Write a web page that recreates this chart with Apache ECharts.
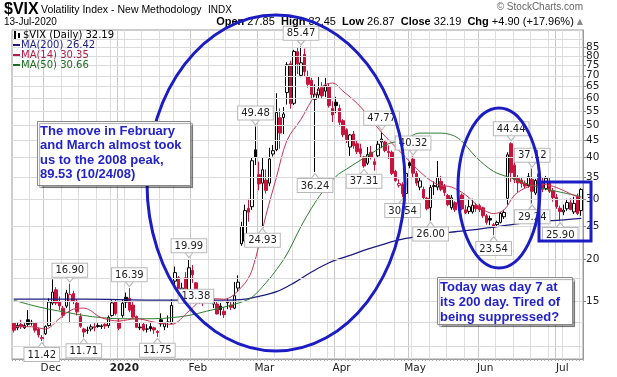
<!DOCTYPE html>
<html>
<head>
<meta charset="utf-8">
<script src="https://cdn.jsdelivr.net/npm/echarts@6/dist/echarts.min.js"></script>
<style>
html,body{margin:0;padding:0;background:#fff;}
#chart{width:617px;height:377px;}
</style>
</head>
<body>
<div id="chart"></div>
<script>
// trading days shown on the chart
const days = [
  '2019-11-18','2019-11-19','2019-11-20','2019-11-21','2019-11-22','2019-11-25','2019-11-26','2019-11-27','2019-11-29',
  '2019-12-02','2019-12-03','2019-12-04','2019-12-05','2019-12-06','2019-12-09','2019-12-10','2019-12-11','2019-12-12','2019-12-13',
  '2019-12-16','2019-12-17','2019-12-18','2019-12-19','2019-12-20','2019-12-23','2019-12-24','2019-12-26','2019-12-27','2019-12-30','2019-12-31',
  '2020-01-02','2020-01-03','2020-01-06','2020-01-07','2020-01-08','2020-01-09','2020-01-10','2020-01-13','2020-01-14','2020-01-15',
  '2020-01-16','2020-01-17','2020-01-21','2020-01-22','2020-01-23','2020-01-24','2020-01-27','2020-01-28','2020-01-29','2020-01-30','2020-01-31',
  '2020-02-03','2020-02-04','2020-02-05','2020-02-06','2020-02-07','2020-02-10','2020-02-11','2020-02-12','2020-02-13','2020-02-14',
  '2020-02-18','2020-02-19','2020-02-20','2020-02-21','2020-02-24','2020-02-25','2020-02-26','2020-02-27','2020-02-28',
  '2020-03-02','2020-03-03','2020-03-04','2020-03-05','2020-03-06','2020-03-09','2020-03-10','2020-03-11','2020-03-12','2020-03-13',
  '2020-03-16','2020-03-17','2020-03-18','2020-03-19','2020-03-20','2020-03-23','2020-03-24','2020-03-25','2020-03-26','2020-03-27','2020-03-30','2020-03-31',
  '2020-04-01','2020-04-02','2020-04-03','2020-04-06','2020-04-07','2020-04-08','2020-04-09','2020-04-13','2020-04-14','2020-04-15',
  '2020-04-16','2020-04-17','2020-04-20','2020-04-21','2020-04-22','2020-04-23','2020-04-24','2020-04-27','2020-04-28','2020-04-29','2020-04-30',
  '2020-05-01','2020-05-04','2020-05-05','2020-05-06','2020-05-07','2020-05-08','2020-05-11','2020-05-12','2020-05-13','2020-05-14',
  '2020-05-15','2020-05-18','2020-05-19','2020-05-20','2020-05-21','2020-05-22','2020-05-26','2020-05-27','2020-05-28','2020-05-29',
  '2020-06-01','2020-06-02','2020-06-03','2020-06-04','2020-06-05','2020-06-08','2020-06-09','2020-06-10','2020-06-11','2020-06-12',
  '2020-06-15','2020-06-16','2020-06-17','2020-06-18','2020-06-19','2020-06-22','2020-06-23','2020-06-24','2020-06-25','2020-06-26','2020-06-29','2020-06-30',
  '2020-07-01','2020-07-02','2020-07-06','2020-07-07','2020-07-08','2020-07-09','2020-07-10','2020-07-13'
];

// [open, close, low, high]
const ohlc = [
  [12.9,12.3,12.1,13.0],[12.5,12.7,12.3,13.0],[12.8,12.6,12.4,13.2],[12.5,12.7,12.4,12.9],[13.2,12.8,12.6,14.1],
  [12.9,13.0,12.7,13.2],[12.9,12.3,12.1,13.0],[12.4,11.9,11.7,12.5],[11.6,11.7,11.42,11.9],
  [12.0,12.62,11.9,12.7],[12.7,14.91,12.6,15.3],[14.8,15.96,14.6,17.4],[16.2,14.80,14.6,16.5],[14.9,14.52,14.1,15.5],
  [14.3,13.62,13.4,14.5],[14.5,15.86,14.3,16.2],[15.0,15.68,12.9,16.90],[15.8,14.99,14.7,16.1],[14.8,13.94,13.6,15.2],
  [13.5,12.63,12.5,13.8],[12.4,12.14,11.71,12.5],[12.3,12.29,12.0,12.6],[12.4,12.58,12.2,12.8],[12.6,12.50,12.2,12.9],
  [12.7,12.61,12.5,12.9],[12.6,12.67,12.4,12.8],[12.8,12.65,12.4,12.9],[12.7,13.43,12.5,13.6],[13.6,14.82,13.5,15.1],[14.9,13.78,13.6,15.2],
  [13.0,12.47,12.3,13.3],[13.6,14.8,13.4,15.2],[15.4,14.9,14.3,15.9],[15.3,14.1,13.9,16.39],[14.6,13.45,13.3,15.0],
  [13.5,12.54,12.5,13.6],[12.5,12.56,12.3,12.9],[12.8,12.32,12.2,13.0],[12.4,12.39,12.1,12.8],[12.6,12.42,12.2,12.9],
  [12.5,12.32,12.0,12.6],[12.2,12.10,11.75,12.3],[13.2,12.85,12.6,13.8],[12.6,12.91,12.3,13.0],[13.0,12.98,12.5,13.6],
  [12.9,14.56,12.8,15.2],[17.2,18.23,16.8,19.0],[17.6,16.28,16.0,17.8],[15.9,16.39,15.6,17.0],[17.6,15.49,15.3,18.3],[15.6,18.84,15.5,19.99],
  [18.5,17.97,17.0,19.2],[17.0,16.05,15.9,17.1],[15.7,15.15,14.7,16.3],[15.1,14.96,14.5,15.4],[15.2,15.47,14.9,15.9],
  [15.9,15.04,14.8,16.0],[14.7,15.18,14.3,15.6],[14.7,13.74,13.7,15.0],[14.5,14.15,13.6,14.8],[14.0,13.68,13.38,14.4],
  [14.9,14.83,14.2,15.3],[14.6,14.38,14.1,14.9],[14.3,15.56,14.2,17.1],[16.4,17.08,16.0,17.9],
  [22.2,25.03,21.9,25.8],[22.6,27.85,22.3,29.0],[28.3,27.56,25.8,30.2],[28.6,39.16,28.0,39.9],[42.2,40.11,38.0,49.48],
  [35.6,33.42,32.0,38.9],[33.6,36.82,24.93,39.9],[34.3,31.99,31.3,36.9],[33.6,39.62,32.9,42.8],[41.0,41.94,40.3,43.6],
  [42.2,54.46,41.8,62.12],[52.5,47.30,42.5,56.0],[52.6,53.90,47.0,56.5],[62.4,75.47,57.5,76.8],[76.0,57.83,55.9,77.6],
  [58.0,82.69,57.3,83.56],[82.5,75.91,70.8,84.8],[70.2,76.45,69.3,85.47],[81.0,72.00,69.4,84.3],[69.4,66.04,64.5,72.5],
  [67.9,61.59,60.0,69.0],[59.6,61.67,36.24,66.0],[61.4,63.95,60.2,69.8],[64.5,61.00,59.8,67.0],[63.0,65.54,60.5,69.0],
  [65.0,57.08,56.3,66.4],[56.0,53.54,51.0,58.8],
  [58.4,57.06,54.2,60.6],[56.0,50.91,49.5,57.5],[51.5,46.80,46.0,52.0],[48.4,45.24,44.2,48.9],[43.0,46.70,40.5,47.0],
  [47.0,43.35,42.5,48.0],[44.0,41.67,41.0,45.0],[42.5,41.17,40.0,44.0],[40.2,37.76,37.31,40.5],[38.5,40.84,38.0,43.0],
  [41.5,40.11,39.5,43.3],[38.9,38.15,36.6,39.8],[40.5,43.83,40.0,45.0],[44.5,45.41,42.7,47.77],[44.5,41.98,41.5,45.0],
  [41.7,41.38,39.6,43.5],[41.5,35.93,35.5,42.0],[36.4,34.2,33.9,36.8],[33.1,33.5,32.6,34.5],[33.3,31.23,30.54,33.8],[31.3,35.9,31.0,36.6],
  [38.6,37.9,37.2,39.0],[39.6,35.97,35.0,40.32],[35.9,33.61,33.0,36.5],[32.7,34.12,32.0,35.0],[32.2,30.4,30.0,32.8],
  [30.3,28.2,27.9,30.6],[28.4,32.6,26.00,33.2],[32.8,33.04,31.0,34.0],[32.7,35.0,32.0,39.1],[34.0,32.2,31.8,35.3],
  [32.9,31.5,30.8,33.4],[30.9,29.0,28.7,31.2],[28.4,30.4,28.0,31.0],[29.4,28.0,27.6,29.7],[29.9,29.53,27.9,31.5],
  [31.0,28.16,27.9,31.3],[28.0,27.4,27.2,28.9],[27.7,28.59,27.2,30.2],[27.6,28.9,27.3,30.2],[28.9,28.2,27.6,29.4],
  [28.8,28.0,27.6,29.2],[28.4,26.9,26.5,28.6],[26.9,25.7,25.3,27.2],[26.4,26.1,25.2,26.9],[25.3,24.8,23.54,25.6],
  [25.3,25.7,24.9,26.0],[25.7,27.3,25.5,27.6],[26.7,27.5,26.3,28.0],[30.3,40.79,29.0,41.5],[44.0,36.09,33.9,44.44],
  [38.0,34.40,33.6,39.0],[34.7,33.67,31.6,35.5],[34.3,33.47,32.6,35.0],[33.6,32.94,32.4,34.2],[33.0,35.12,32.6,36.0],
  [34.5,31.77,29.24,37.12],[31.4,34.2,31.0,34.6],[35.8,33.1,32.8,36.0],[33.6,32.22,31.6,34.8],[32.4,34.73,32.0,35.3],
  [34.0,31.78,31.4,34.8],[31.9,30.43,29.6,32.5],
  [30.5,28.62,28.2,31.2],[28.3,27.68,25.90,28.8],[27.6,27.94,27.0,29.0],[28.2,29.43,27.8,30.2],[29.4,28.08,27.9,30.3],
  [27.6,29.26,27.2,30.6],[30.6,27.29,27.0,31.3],[27.85,32.19,26.87,32.45]
];

// days whose high / low carry a value box
const hiIdx = [16, 33, 50, 69, 82, 105, 114, 142, 148];
const loIdx = [8, 20, 41, 60, 71, 86, 100, 111, 119, 137, 148, 156];

// moving averages: [day index, value]
const ma200Pts = [[0,15.2],[20,15.2],[40,15.1],[60,15.1],[66,15.2],[70,15.5],[75,16.0],[80,17.0],[85,18.3],[90,19.5],
  [96,20.5],[101,21.4],[106,22.2],[111,22.9],[116,23.4],[121,23.8],[126,24.1],[131,24.4],[136,24.8],[141,25.2],
  [146,25.6],[151,25.9],[156,26.1],[162,26.42]];
const ma50Pts = [[0,15.1],[5,14.6],[10,14.2],[15,13.9],[20,13.6],[25,13.4],[30,13.3],[35,13.3],[40,13.3],[45,13.4],
  [50,13.6],[55,14.0],[60,14.4],[65,14.9],[68,15.4],[72,17.0],[75,18.6],[78,20.7],[82,25.0],[85,28.3],[88,31.5],
  [92,35.2],[95,37.0],[101,40.5],[107,44.0],[111,45.0],[116,47.3],[122,47.3],[127,45.6],[132,40.1],[137,36.4],
  [142,34.8],[149,32.8],[156,31.6],[162,30.66]];
const ma14Pts = [[0,12.6],[5,12.6],[9,12.4],[13,13.3],[17,14.2],[20,14.3],[25,13.4],[30,13.1],[35,13.3],[40,13.0],
  [45,12.8],[50,14.0],[55,15.3],[60,15.2],[65,16.5],[68,18.5],[72,27],[75,35],[78,45],[82,52],[85,59],[88,65],
  [91,66.6],[94,63],[98,58],[101,53.5],[105,47.5],[109,43],[113,39],[117,35.5],[121,33.3],[125,32.7],[129,31],
  [133,28.5],[137,27.3],[140,28.0],[143,31.0],[147,32.8],[151,33.3],[155,32.6],[159,31.2],[162,30.35]];

const tickVals = [15,20,25,30,35,40,45,50,55,60,65,70,75,80,85,90];
const gridVals = [11,13,15,17.5,20,25,30,35,40,45,50,55,60,65,70,75,80,85,90];
const monthNames = ['', '2020', 'Feb', 'Mar', 'Apr', 'May', 'Jun', 'Jul', 'Aug', 'Sep', 'Oct', 'Nov', 'Dec'];

const RED = '#c8143c';
const NAVY = '#1c1c80';
const GREEN = '#2f7d2f';
const MA14C = '#c8345a';
const ANNO = '#1c1cc4';

const candles = ohlc.map(function(d, i) {
  let prev = i ? ohlc[i - 1][1] : d[0];
  let col = d[1] < prev ? RED : '#000';
  let fill = d[1] < d[0] ? col : '#fff';
  return { value: d, itemStyle: { color: fill, color0: fill, borderColor: col, borderColor0: col } };
});

const monthStart = new Set();
const weekStart = new Set();
days.forEach(function(d, i) {
  if (i === 0) return;
  if (d.slice(5, 7) !== days[i - 1].slice(5, 7)) monthStart.add(i);
  let a = new Date(d + 'T00:00:00Z').getUTCDay();
  let b = new Date(days[i - 1] + 'T00:00:00Z').getUTCDay();
  if (a <= b) weekStart.add(i);
});

const callouts = hiIdx.map(function(i) {
  return { coord: [i, ohlc[i][3]], value: ohlc[i][3].toFixed(2), symbol: 'triangle', symbolRotate: 180,
    symbolSize: [8, 5], symbolOffset: [0, -4], label: { position: 'top', distance: 0 } };
}).concat(loIdx.map(function(i) {
  let item = { coord: [i, ohlc[i][2]], value: ohlc[i][2].toFixed(2), symbol: 'triangle',
    symbolSize: [8, 5], symbolOffset: [0, 4], label: { position: 'bottom', distance: 0 } };
  // the mid-February box sits up and to the left, clear of the candles
  if (i === 60) { item.symbolSize = 0; item.label.offset = [-28, -32]; }
  return item;
}));

function maSeries(name, pts, color, width) {
  return {
    name: name, type: 'line', data: pts, showSymbol: false, smooth: 0.35, z: 4,
    lineStyle: { color: color, width: width }, silent: true
  };
}

const chart = echarts.init(document.getElementById('chart'), null, { renderer: 'canvas' });

const option = {
  animation: false,
  backgroundColor: '#fff',
  grid: { left: 12, right: 34, top: 30, bottom: 18, show: true, borderColor: '#9a9a9a', borderWidth: 1 },
  xAxis: [{
    type: 'category', data: days, boundaryGap: true,
    axisLine: { lineStyle: { color: '#999' } },
    axisTick: { show: true, interval: 0, length: 2, lineStyle: { color: '#aaa' } },
    axisLabel: {
      interval: function(i) { return monthStart.has(i); },
      formatter: function(v) { let m = +v.slice(5, 7); return m === 1 ? '{b|2020}' : monthNames[m]; },
      fontFamily: 'DejaVu Sans', fontSize: 10.5, color: '#222', margin: 4, padding: [0, 0, 0, 11],
      rich: { b: { fontWeight: 'bold', fontFamily: 'DejaVu Sans', fontSize: 10.5, color: '#222' } }
    },
    splitLine: { show: true, interval: function(i) { return weekStart.has(i); }, lineStyle: { color: '#dedede' } }
  }, {
    type: 'category', data: days, boundaryGap: true, position: 'top',
    axisLine: { show: false }, axisTick: { show: false }, axisLabel: { show: false },
    splitLine: { show: true, interval: function(i) { return monthStart.has(i); }, lineStyle: { color: '#c8c8c8' } }
  }],
  yAxis: {
    type: 'log', logBase: 10, position: 'right', min: 10.1, max: 95.7,
    axisLine: { show: true, lineStyle: { color: '#999' } },
    axisTick: { show: true, length: 3, customValues: tickVals, lineStyle: { color: '#888' } },
    axisLabel: {
      customValues: tickVals, margin: 3, color: '#222', fontSize: 10.5, fontFamily: 'DejaVu Sans',
      formatter: function(v) { return String(Math.round(v)); }
    },
    splitLine: { show: false }
  },
  series: [
    {
      type: 'line', data: [], z: 1, silent: true,
      markLine: {
        silent: true, symbol: 'none', label: { show: false },
        lineStyle: { color: '#dadada', width: 1, type: 'solid' },
        data: gridVals.map(function(v) { return { yAxis: v }; })
      }
    },
    {
      name: '$VIX', type: 'candlestick', data: candles, barWidth: 3, z: 3,
      markPoint: {
        data: callouts, z: 6,
        itemStyle: { color: '#fff', borderColor: '#b8b8b8', borderWidth: 1 },
        label: {
          show: true, formatter: '{c}', fontFamily: 'DejaVu Sans', fontSize: 10, color: '#222',
          backgroundColor: '#fff', borderColor: '#b8b8b8', borderWidth: 1, padding: [2, 3, 1, 3]
        }
      }
    },
    maSeries('MA(200)', ma200Pts, NAVY, 1.3),
    maSeries('MA(50)', ma50Pts, GREEN, 1),
    maSeries('MA(14)', ma14Pts, MA14C, 1)
  ],
  graphic: [
    // header
    { type: 'text', x: 4, y: 10, z: 100, style: { text: '$VIX', font: 'bold 16px "Liberation Sans"', fill: '#000', verticalAlign: 'middle' } },
    { type: 'text', x: 41, y: 10, z: 100, style: { text: 'Volatility Index - New Methodology', font: '10.5px "Liberation Sans"', fill: '#000', verticalAlign: 'middle' } },
    { type: 'text', x: 208, y: 10, z: 100, style: { text: 'INDX', font: '10px "Liberation Sans"', fill: '#000', verticalAlign: 'middle' } },
    { type: 'text', x: 4, y: 22, z: 100, style: { text: '13-Jul-2020', font: '10px "Liberation Sans"', fill: '#000', verticalAlign: 'middle' } },
    { type: 'text', x: 583, y: 7, z: 100, style: { text: '\u00a9 StockCharts.com', font: '10px "Liberation Sans"', fill: '#666', align: 'right', verticalAlign: 'middle' } },
    { type: 'text', x: 583, y: 22, z: 100, style: {
      text: '{b|Open} 27.85  {b|High} 32.45  {b|Low} 26.87  {b|Close} 32.19  {b|Chg} +4.90 (+17.96%) {t|\u25b2}',
      font: '11px "Liberation Sans"', fill: '#000', align: 'right', verticalAlign: 'middle',
      rich: { b: { font: 'bold 11px "Liberation Sans"', fill: '#000' }, t: { font: '8px "DejaVu Sans"', fill: '#888' } }
    } },
    // in-plot legend
    { type: 'rect', z: 100, shape: { x: 14, y: 31, width: 2, height: 8 }, style: { fill: '#000' } },
    { type: 'rect', z: 100, shape: { x: 18, y: 33, width: 2, height: 5 }, style: { fill: '#000' } },
    { type: 'text', x: 23, y: 35, z: 100, style: { text: '$VIX (Daily) 32.19', font: '10px "DejaVu Sans"', fill: '#000', verticalAlign: 'middle' } },
    { type: 'line', z: 100, shape: { x1: 13, y1: 45, x2: 20, y2: 45 }, style: { stroke: NAVY, lineWidth: 2 } },
    { type: 'text', x: 21, y: 45, z: 100, style: { text: 'MA(200) 26.42', font: '10px "DejaVu Sans"', fill: NAVY, verticalAlign: 'middle' } },
    { type: 'line', z: 100, shape: { x1: 13, y1: 55, x2: 20, y2: 55 }, style: { stroke: '#b01c44', lineWidth: 2 } },
    { type: 'text', x: 21, y: 55, z: 100, style: { text: 'MA(14) 30.35', font: '10px "DejaVu Sans"', fill: '#b01c44', verticalAlign: 'middle' } },
    { type: 'line', z: 100, shape: { x1: 13, y1: 65, x2: 20, y2: 65 }, style: { stroke: '#1f6b1f', lineWidth: 2 } },
    { type: 'text', x: 21, y: 65, z: 100, style: { text: 'MA(50) 30.66', font: '10px "DejaVu Sans"', fill: '#1f6b1f', verticalAlign: 'middle' } },
    // annotations
    { type: 'ellipse', z: 100, shape: { cx: 276, cy: 183, rx: 129, ry: 168 }, style: { fill: 'none', stroke: ANNO, lineWidth: 3 } },
    { type: 'ellipse', z: 100, shape: { cx: 499, cy: 188, rx: 41, ry: 80 }, style: { fill: 'none', stroke: ANNO, lineWidth: 3 } },
    { type: 'rect', z: 100, shape: { x: 539, y: 182, width: 52, height: 59 }, style: { fill: 'none', stroke: ANNO, lineWidth: 3 } },
    { type: 'rect', z: 100, shape: { x: 37.5, y: 121.5, width: 153, height: 64 },
      style: { fill: '#fff', stroke: '#8a8a8a', lineWidth: 1, shadowColor: 'rgba(0,0,0,0.35)', shadowOffsetX: 2, shadowOffsetY: 2, shadowBlur: 1 } },
    { type: 'text', x: 40, y: 124, z: 101, style: {
      text: 'The move in February\nand March almost took\nus to the 2008 peak,\n89.53 (10/24/08)',
      font: 'bold 13px "Liberation Sans"', fill: '#2323c8', lineHeight: 14.5 } },
    { type: 'rect', z: 100, shape: { x: 437.5, y: 277.5, width: 135, height: 47 },
      style: { fill: '#fff', stroke: '#8a8a8a', lineWidth: 1, shadowColor: 'rgba(0,0,0,0.35)', shadowOffsetX: 2, shadowOffsetY: 2, shadowBlur: 1 } },
    { type: 'text', x: 440, y: 280, z: 101, style: {
      text: 'Today was day 7 at\nits 200 day. Tired of\nbeing suppressed?',
      font: 'bold 13px "Liberation Sans"', fill: '#2323c8', lineHeight: 15 } }
  ]
};

chart.setOption(option);
</script>
</body>
</html>
